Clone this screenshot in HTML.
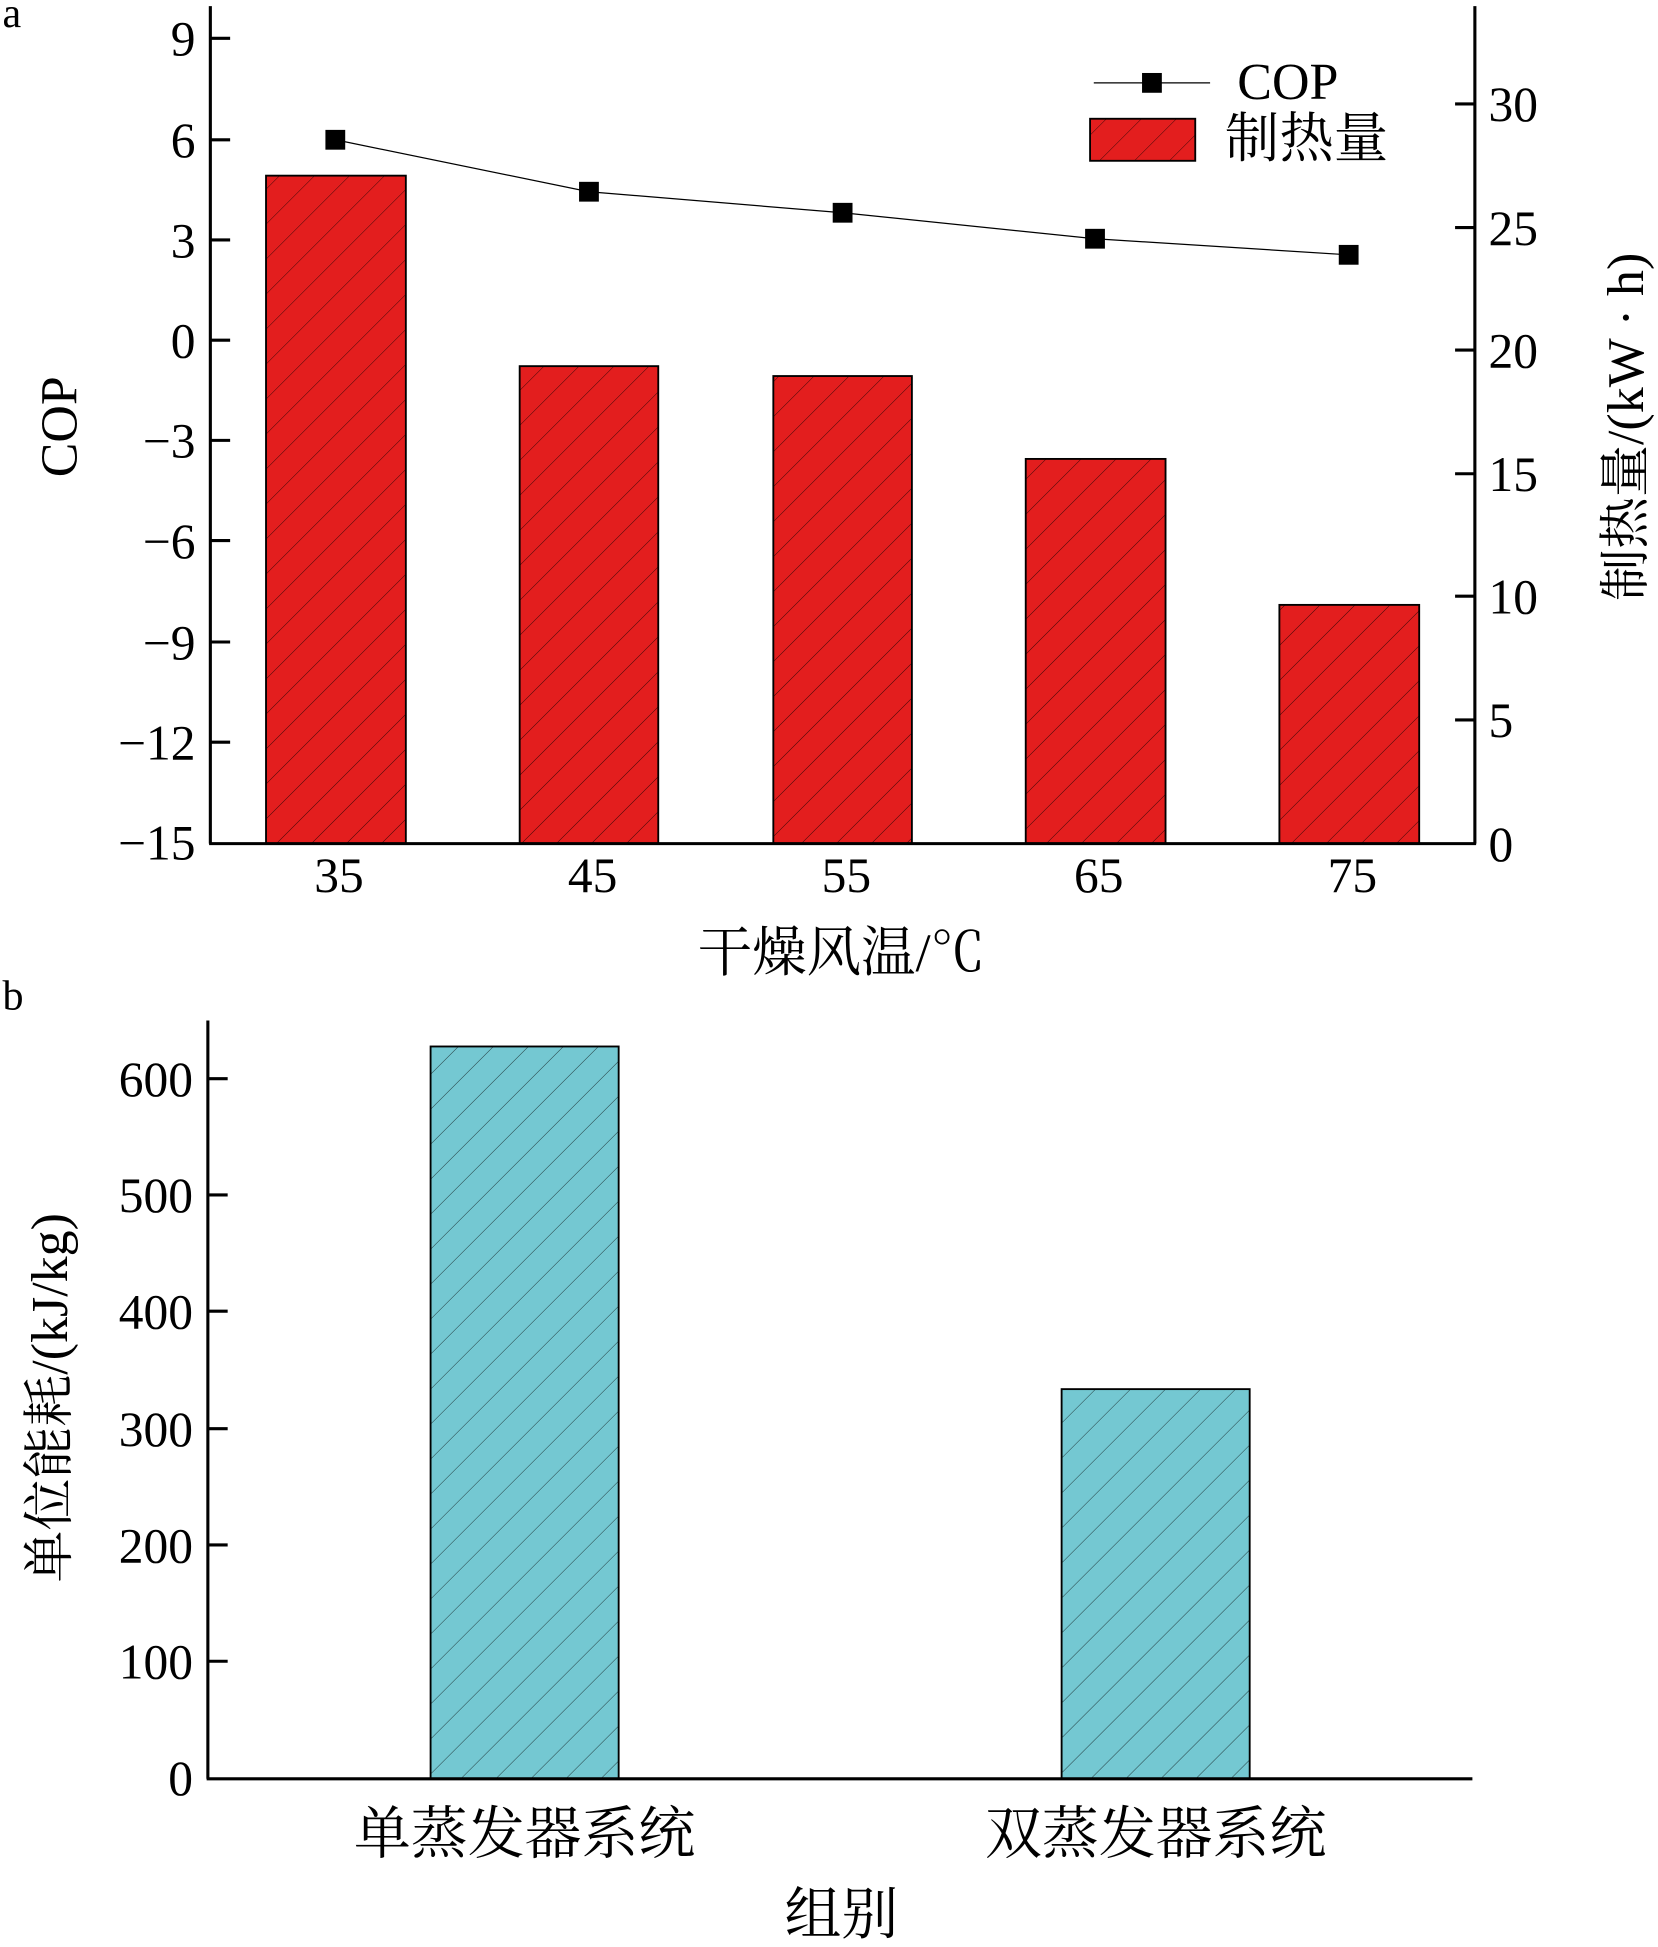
<!DOCTYPE html>
<html><head><meta charset="utf-8"><style>html,body{margin:0;padding:0;background:#fff}svg{display:block}</style></head><body>
<svg width="1658" height="1947" viewBox="0 0 1340 1574" preserveAspectRatio="none" xmlns="http://www.w3.org/2000/svg" font-family="'Liberation Serif','Noto Serif CJK SC',serif">
<defs>
<pattern id="h" patternUnits="userSpaceOnUse" width="20" height="20" patternTransform="rotate(45)">
<line x1="0" y1="0" x2="0" y2="20" stroke="#000" stroke-width="0.8" opacity="0.7"/>
</pattern>
</defs>
<rect width="1340" height="1574" fill="#fff"/>
<text x="2" y="22" font-size="34">a</text>
<text x="2" y="816" font-size="34">b</text>
<g stroke="#000" stroke-width="1.5">
<rect x="215" y="142" width="113" height="540" fill="#e31e1e"/>
<rect x="420" y="296" width="112" height="386" fill="#e31e1e"/>
<rect x="625" y="304" width="112" height="378" fill="#e31e1e"/>
<rect x="829" y="371" width="113" height="311" fill="#e31e1e"/>
<rect x="1034" y="489" width="113" height="193" fill="#e31e1e"/>
</g>
<g>
<rect x="215" y="142" width="113" height="540" fill="url(#h)"/>
<rect x="420" y="296" width="112" height="386" fill="url(#h)"/>
<rect x="625" y="304" width="112" height="378" fill="url(#h)"/>
<rect x="829" y="371" width="113" height="311" fill="url(#h)"/>
<rect x="1034" y="489" width="113" height="193" fill="url(#h)"/>
</g>
<polyline points="271,113 476,155 681,172 885,193 1090,206" fill="none" stroke="#000" stroke-width="1"/>
<g fill="#000">
<rect x="263" y="105" width="16" height="16"/><rect x="468" y="147" width="16" height="16"/><rect x="673" y="164" width="16" height="16"/><rect x="877" y="185" width="16" height="16"/><rect x="1082" y="198" width="16" height="16"/>
</g>
<g stroke="#000" stroke-width="2.5" fill="none">
<line x1="170" y1="5" x2="170" y2="682"/>
<line x1="1192" y1="5" x2="1192" y2="682"/>
<line x1="169" y1="682" x2="1193" y2="682"/>
<path d="M170 31h16M170 113h16M170 194h16M170 275h16M170 356h16M170 437h16M170 519h16M170 600h16"/>
<path d="M1192 84h-16M1192 184h-16M1192 283h-16M1192 383h-16M1192 482h-16M1192 582h-16"/>
</g>
<g font-size="40" text-anchor="end">
<text x="158" y="45">9</text><text x="158" y="127">6</text><text x="158" y="208">3</text><text x="158" y="289">0</text>
<text x="158" y="370">−3</text><text x="158" y="451">−6</text><text x="158" y="533">−9</text><text x="158" y="614">−12</text><text x="158" y="695">−15</text>
</g>
<g font-size="40">
<text x="1203" y="98">30</text><text x="1203" y="198">25</text><text x="1203" y="297">20</text><text x="1203" y="397">15</text><text x="1203" y="496">10</text><text x="1203" y="596">5</text><text x="1203" y="696">0</text>
</g>
<g font-size="40" text-anchor="middle">
<text x="274" y="721">35</text><text x="479" y="721">45</text><text x="684" y="721">55</text><text x="888" y="721">65</text><text x="1093" y="721">75</text>
</g>
<text x="680" y="785" font-size="44" text-anchor="middle">干燥风温/℃</text>
<text transform="translate(62,345) rotate(-90)" font-size="42" text-anchor="middle">COP</text>
<text transform="translate(1328,345) rotate(-90)" font-size="42" text-anchor="middle">制热量/(kW · h)</text>
<line x1="884" y1="67" x2="978" y2="67" stroke="#000" stroke-width="1"/>
<rect x="923" y="59" width="16" height="16" fill="#000"/>
<text x="1000" y="80" font-size="42">COP</text>
<rect x="881" y="96" width="85" height="34" fill="#e31e1e" stroke="#000" stroke-width="1.5"/>
<rect x="881" y="96" width="85" height="34" fill="url(#h)"/>
<text x="990" y="127" font-size="44">制热量</text>
<g stroke="#000" stroke-width="1.5">
<rect x="348" y="846" width="152" height="592" fill="#74c8d2"/>
<rect x="858" y="1123" width="152" height="315" fill="#74c8d2"/>
</g>
<rect x="348" y="846" width="152" height="592" fill="url(#h)"/>
<rect x="858" y="1123" width="152" height="315" fill="url(#h)"/>
<g stroke="#000" stroke-width="2.5" fill="none">
<line x1="168" y1="825" x2="168" y2="1438"/>
<line x1="167" y1="1438" x2="1190" y2="1438"/>
<path d="M168 872h16M168 966h16M168 1060h16M168 1155h16M168 1249h16M168 1343h16"/>
</g>
<g font-size="40" text-anchor="end">
<text x="156" y="886">600</text><text x="156" y="980">500</text><text x="156" y="1074">400</text><text x="156" y="1169">300</text><text x="156" y="1263">200</text><text x="156" y="1357">100</text><text x="156" y="1451">0</text>
</g>
<g font-size="46" text-anchor="middle">
<text x="424" y="1498">单蒸发器系统</text><text x="934" y="1498">双蒸发器系统</text>
</g>
<text x="680" y="1563" font-size="46" text-anchor="middle">组别</text>
<text transform="translate(54,1130) rotate(-90)" font-size="42" text-anchor="middle">单位能耗/(kJ/kg)</text>
</svg>
</body></html>
